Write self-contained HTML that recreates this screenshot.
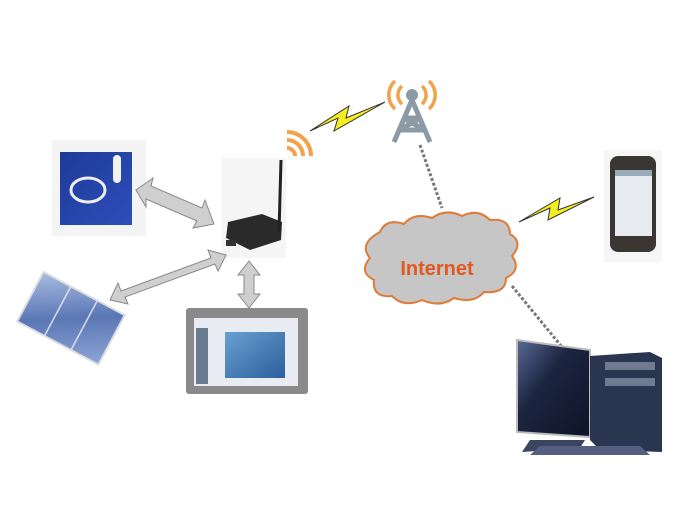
<!DOCTYPE html>
<html><head><style>body{margin:0;background:#fff}svg{display:block}</style></head><body>
<svg width="700" height="523" viewBox="0 0 700 523" xmlns="http://www.w3.org/2000/svg">
<defs>
<linearGradient id="sky" x1="0" y1="0" x2="1" y2="1"><stop offset="0" stop-color="#1e3a9a"/><stop offset="1" stop-color="#2d4fb8"/></linearGradient>
<linearGradient id="solar" x1="0" y1="0" x2="1" y2="1"><stop offset="0" stop-color="#a9bde0"/><stop offset="0.5" stop-color="#5a77b5"/><stop offset="1" stop-color="#8ea6d6"/></linearGradient>
<linearGradient id="mon" x1="0" y1="0" x2="1" y2="1"><stop offset="0" stop-color="#5a6a96"/><stop offset="0.4" stop-color="#1c2540"/><stop offset="1" stop-color="#0d1428"/></linearGradient>
<linearGradient id="scr" x1="0" y1="0" x2="1" y2="1"><stop offset="0" stop-color="#6aa0d0"/><stop offset="1" stop-color="#2a5f9c"/></linearGradient>
</defs>
<rect x="52" y="140" width="94" height="96" fill="#f4f4f4"/>
<rect x="60" y="152" width="72" height="73" fill="url(#sky)"/>
<ellipse cx="88" cy="190" rx="17" ry="12" fill="none" stroke="#eee" stroke-width="3"/>
<rect x="113" y="155" width="8" height="28" rx="4" fill="#f2f2f2"/>
<rect x="222" y="158" width="64" height="100" fill="#f5f5f5"/>
<polygon points="228,222 262,214 282,222 281,240 250,250 226,238" fill="#2a2a2a"/>
<rect x="226" y="240" width="10" height="6" fill="#333"/>
<line x1="281" y1="160" x2="279" y2="232" stroke="#222" stroke-width="3"/>
<g fill="none" stroke="#f0a34a" stroke-width="4">
<path d="M287,148 a8,8 0 0 1 8,8"/><path d="M287,140 a16,16 0 0 1 16,16"/><path d="M287,132 a24,24 0 0 1 24,24"/></g>
<polygon points="310,131 338,118 334,131 385,102 346,118 349,106" fill="#f5ee20" stroke="#333" stroke-width="1"/>
<g fill="none" stroke="#8c9aa6" stroke-width="5">
<path d="M412,100 L394,142 M412,100 L430,142 M403,118 L421,118 M399,130 L425,130 M403,118 L425,130 M421,118 L399,130"/></g>
<circle cx="412" cy="95" r="6" fill="#8c9aa6"/>
<g fill="none" stroke="#f0a34a" stroke-width="3.5">
<path d="M402,86 a12,12 0 0 0 0,18"/><path d="M395,81 a19,19 0 0 0 0,28"/><path d="M422,86 a12,12 0 0 1 0,18"/><path d="M429,81 a19,19 0 0 1 0,28"/></g>
<line x1="420" y1="145" x2="442" y2="208" stroke="#777" stroke-width="3" stroke-dasharray="3,2"/>
<line x1="512" y1="286" x2="562" y2="347" stroke="#777" stroke-width="3" stroke-dasharray="3,2"/>
<path d="M380,232 q6,-14 24,-8 q10,-12 28,-6 q14,-10 30,-2 q16,-8 28,4 q20,-2 20,14 q14,8 2,22 q10,14 -6,22 q0,16 -22,14 q-10,12 -30,6 q-14,10 -32,2 q-18,8 -30,-4 q-20,2 -18,-16 q-16,-8 -4,-22 q-12,-14 10,-26z" fill="#c6c6c6" stroke="#e07a38" stroke-width="2"/>
<text x="437" y="275" text-anchor="middle" font-family="Liberation Sans,sans-serif" font-weight="bold" font-size="20" fill="#e05a20">Internet</text>
<polygon points="519,222 550,208 548,220 594,197 558,210 560,198" fill="#f5ee20" stroke="#333" stroke-width="1"/>
<rect x="604" y="150" width="58" height="112" fill="#f6f6f6"/>
<rect x="610" y="156" width="46" height="96" rx="8" fill="#3a3632"/>
<rect x="615" y="170" width="37" height="66" fill="#e8ecf0"/>
<rect x="615" y="170" width="37" height="6" fill="#9ab"/>
<g transform="translate(70,320) rotate(28)">
<rect x="-46" y="-30" width="92" height="56" fill="url(#solar)" stroke="#ddd" stroke-width="2"/>
<path d="M-15,-30 v56 M15,-30 v56" stroke="#dde" stroke-width="1.5"/></g>
<rect x="186" y="308" width="122" height="86" rx="3" fill="#8a8a8a"/>
<rect x="194" y="318" width="104" height="68" fill="#e8ecf2"/>
<rect x="196" y="328" width="12" height="56" fill="#6a7a90"/>
<rect x="225" y="332" width="60" height="46" fill="url(#scr)"/>
<g fill="#cfcfcf" stroke="#888" stroke-width="1">
<polygon points="136,190 153,178 151,186 202,208 205,200 214,224 193,228 197,221 146,199 146,207"/>
<polygon points="110,300 118,283 121,291 211,258 208,250 226,255 218,271 215,264 125,297 128,304"/>
<polygon points="249,261 260,275 254,275 254,294 260,294 249,308 238,294 244,294 244,275 238,275"/>
</g>
<polygon points="517,340 590,350 590,437 517,432" fill="url(#mon)" stroke="#bbb" stroke-width="2"/>
<polygon points="590,356 650,352 662,358 662,452 600,450 590,440" fill="#2a3550"/>
<rect x="605" y="362" width="50" height="8" fill="#6f7a90"/>
<rect x="605" y="378" width="50" height="8" fill="#6f7a90"/>
<polygon points="530,440 585,440 580,448 522,452" fill="#3a4560"/>
<polygon points="540,446 640,446 650,455 530,455" fill="#556080"/>
</svg>
</body></html>
